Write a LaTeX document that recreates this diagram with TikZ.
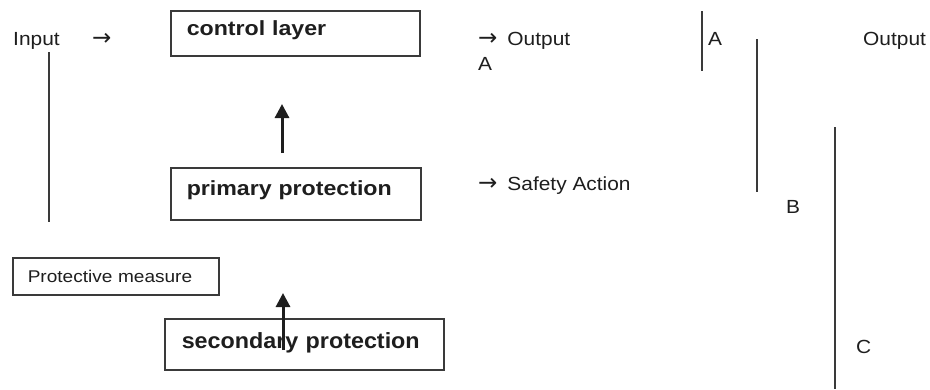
\documentclass[tikz,border=0pt]{standalone}
\usepackage{fontspec}
\setmainfont{Liberation Sans}
\newfontfamily\regfont[FakeStretch=1.1]{Liberation Sans}
\newfontfamily\smallfont[FakeStretch=1.12]{Liberation Sans}
\newfontfamily\boldfontA[FakeStretch=1.13]{Liberation Sans Bold}
\newfontfamily\boldfontB[FakeStretch=1.06]{Liberation Sans Bold}
\newfontfamily\arrfont{DejaVu Sans}
\newcommand{\rarr}{{\arrfont\fontsize{23pt}{25pt}\selectfont →}}
\usetikzlibrary{arrows.meta}
\definecolor{ink}{HTML}{1E1E1E}
\definecolor{rule}{HTML}{3A3A3A}
\tikzset{
  boxnode/.style={draw=rule, line width=1.5pt, anchor=north west, align=left, inner ysep=0pt, text=ink},
  plain/.style={anchor=base west, inner sep=0pt, text=ink, font=\regfont\fontsize{19pt}{21pt}\selectfont},
  vline/.style={draw=rule, line width=1.5pt},
  uparrow/.style={draw=ink, line width=3pt, -{Triangle[length=14pt,width=14pt]}},
}
\begin{document}
\begin{tikzpicture}[x=1pt,y=-1pt]
\useasboundingbox[fill=white] (0,0) rectangle (930,389);
% boxes
\node[boxnode, inner xsep=16pt, text width=217pt, minimum height=45pt, text height=15pt, text depth=10pt,
  font=\boldfontA\fontsize{20.5pt}{22pt}\selectfont] (cl) at (170,10) {control layer};
\node[boxnode, inner xsep=16pt, text width=218pt, minimum height=52pt, text height=15pt, text depth=11pt,
  font=\boldfontA\fontsize{20.5pt}{22pt}\selectfont] (pp) at (170,167) {primary protection};
\node[boxnode, inner xsep=17pt, text width=245pt, minimum height=51pt, text height=16pt, text depth=7pt,
  font=\boldfontB\fontsize{22pt}{24pt}\selectfont] (sp) at (164,318) {secondary protection};
\node[boxnode, inner xsep=15pt, text width=176pt, minimum height=37pt, text height=13pt, text depth=0pt,
  font=\smallfont\fontsize{17pt}{19pt}\selectfont] (pm) at (12,257) {Protective measure};
% texts
\node[plain] (in) at (13,45) {Input};
\node[plain] (inarr) at (92,45) {\rarr};
\node[plain] (out1) at (478,45) {\rarr\hspace{10pt}Output};
\node[plain] (a1) at (478,70) {A};
\node[plain] (a2) at (708,45) {A};
\node[plain] (out2) at (863,45) {Output};
\node[plain] (sa) at (478,190) {\rarr\hspace{10pt}Safety Action};
\node[plain] (b) at (786,213) {B};
\node[plain] (c) at (856,353) {C};
% vertical lines
\coordinate (l1t) at (49,52); \coordinate (l1b) at (49,222);
\coordinate (l2t) at (702,11); \coordinate (l2b) at (702,71);
\coordinate (l3t) at (757,39); \coordinate (l3b) at (757,192);
\coordinate (l4t) at (835,127); \coordinate (l4b) at (835,389);
\draw[vline] (l1t) -- (l1b);
\draw[vline, line width=2.2pt] (l2t) -- (l2b);
\draw[vline] (l3t) -- (l3b);
\draw[vline] (l4t) -- (l4b);
% arrows
\coordinate (ar1s) at (282,153); \coordinate (ar1e) at (282,104);
\coordinate (ar2s) at (283,350); \coordinate (ar2e) at (283,293);
\draw[uparrow] (ar1s) -- (ar1e);
\draw[uparrow] (ar2s) -- (ar2e);
\end{tikzpicture}
\end{document}
